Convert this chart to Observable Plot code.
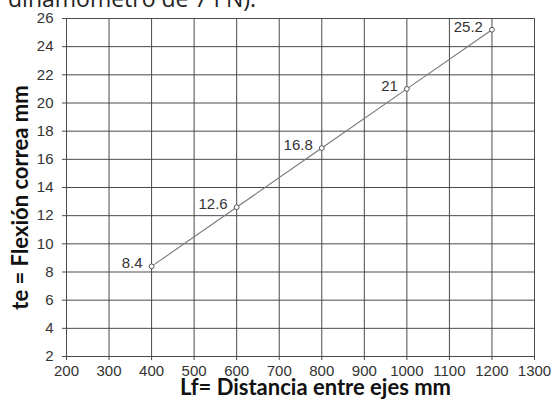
<!DOCTYPE html>
<html>
<head>
<meta charset="utf-8">
<script src="https://cdn.jsdelivr.net/npm/d3@7"></script>
<script src="https://cdn.jsdelivr.net/npm/@observablehq/plot@0.6"></script>
<style>
  html, body { margin: 0; padding: 0; background: #fff; }
  #wrap { position: relative; width: 552px; height: 406px; overflow: hidden; }
  #cap { position: absolute; left: 8px; top: -13px; font-family: "Open Sans", sans-serif; font-size: 23px; line-height: 23px; color: #222; white-space: nowrap; }
  #chart { position: absolute; left: 0; top: 0; }
</style>
</head>
<body>
<div id="wrap">
  <div id="cap"></div>
  <div id="chart"></div>
</div>
<script>
const captionText = "dinamómetro de 7 I N).";
const xTitle = "Lf= Distancia entre ejes mm";
const yTitle = "te = Flexión correa mm";
const xTicks = [200, 300, 400, 500, 600, 700, 800, 900, 1000, 1100, 1200, 1300];
const yTicks = [2, 4, 6, 8, 10, 12, 14, 16, 18, 20, 22, 24, 26];
const lf = [400, 600, 800, 1000, 1200];
const te = [8.4, 12.6, 16.8, 21, 25.2];
const pointLabels = ["8.4", "12.6", "16.8", "21", "25.2"];

document.getElementById("cap").textContent = captionText;
const data = lf.map((x, i) => ({x, y: te[i], label: pointLabels[i]}));

const chart = Plot.plot({
  width: 552,
  height: 406,
  marginLeft: 66,
  marginRight: 18,
  marginTop: 18,
  marginBottom: 50,
  style: {background: "transparent", fontFamily: "'Liberation Sans', Arial, sans-serif"},
  x: {domain: [200, 1300]},
  y: {domain: [2, 26]},
  marks: [
    Plot.gridX(xTicks, {stroke: "#4a4a4a", strokeOpacity: 1, strokeWidth: 1}),
    Plot.gridY(yTicks, {stroke: "#4a4a4a", strokeOpacity: 1, strokeWidth: 1}),
    Plot.axisX(xTicks, {tickSize: 4, tickPadding: 5, fontSize: 15, stroke: "#4a4a4a", fill: "#333", label: null, tickFormat: d => String(d)}),
    Plot.axisY(yTicks, {tickSize: 4, tickPadding: 9, fontSize: 15, stroke: "#4a4a4a", fill: "#333", label: null, tickFormat: d => String(d)}),
    Plot.line(data, {x: "x", y: "y", stroke: "#777", strokeWidth: 1.1}),
    Plot.dot(data, {x: "x", y: "y", r: 2.4, stroke: "#555", fill: "white", strokeWidth: 1}),
    Plot.text(data, {x: "x", y: "y", text: "label", textAnchor: "end", dx: -9, dy: -3, fontSize: 15, fill: "#333"}),
    Plot.text([xTitle], {frameAnchor: "bottom", textAnchor: "middle", dx: 15, dy: 38, fontSize: 22, fontWeight: "bold", fontFamily: "Lato", fill: "#111"}),
    Plot.text([yTitle], {frameAnchor: "left", textAnchor: "middle", rotate: -90, dx: -46, dy: 10, fontSize: 22, fontWeight: "bold", fontFamily: "Lato", fill: "#111"})
  ]
});
document.getElementById("chart").appendChild(chart);
</script>
</body>
</html>
